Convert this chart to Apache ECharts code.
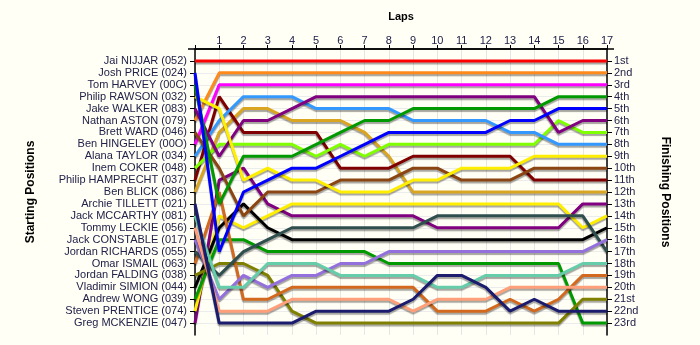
<!DOCTYPE html>
<html><head><meta charset="utf-8">
<script src="https://cdn.jsdelivr.net/npm/echarts@6/dist/echarts.min.js"></script>
<style>html,body{margin:0;padding:0;background:#fffff5;} #c{width:700px;height:345px;}</style>
</head><body><div id="c"></div>
<script>
// Drivers in starting order
const drivers = [
  'Jai NIJJAR (052)', 'Josh PRICE (024)', 'Tom HARVEY (00C)', 'Philip RAWSON (032)',
  'Jake WALKER (083)', 'Nathan ASTON (079)', 'Brett WARD (046)', 'Ben HINGELEY (00O)',
  'Alana TAYLOR (034)', 'Inem COKER (048)', 'Philip HAMPRECHT (037)', 'Ben BLICK (086)',
  'Archie TILLETT (021)', 'Jack MCCARTHY (081)', 'Tommy LECKIE (056)', 'Jack CONSTABLE (017)',
  'Jordan RICHARDS (055)', 'Omar ISMAIL (063)', 'Jordan FALDING (038)', 'Vladimir SIMION (044)',
  'Andrew WONG (039)', 'Steven PRENTICE (074)', 'Greg MCKENZIE (047)'
];
const finishLabels = ['1st','2nd','3rd','4th','5th','6th','7th','8th','9th','10th','11th','12th',
  '13th','14th','15th','16th','17th','18th','19th','20th','21st','22nd','23rd'];
const lapLabels = ['1','2','3','4','5','6','7','8','9','10','11','12','13','14','15','16','17'];
const colors = ['#ff0000','#0000ff','#009a00','#ffee00','#800080','#ff8a1c','#8b4513','#ff00ff',
  '#3399ff','#80ff00','#800000','#daa520','#1c1c6e','#66cdaa','#ffa07a','#9370db',
  '#2f4f4f','#d2691e','#808000','#000000','#009a00','#ffee00','#800080'];
// Position of each driver at laps 0..17
const positions = [
  [1,1,1,1,1,1,1,1,1,1,1,1,1,1,1,1,1,1],
  [2,17,12,11,10,10,9,8,7,7,7,7,7,6,6,5,5,5],
  [3,13,9,9,9,8,7,6,6,5,5,5,5,5,5,4,4,4],
  [4,5,11,10,11,11,12,12,12,11,11,10,10,10,9,9,9,9],
  [5,9,6,6,5,4,4,4,4,4,4,4,4,4,4,7,6,6],
  [6,2,2,2,2,2,2,2,2,2,2,2,2,2,2,2,2,2],
  [7,10,14,12,12,12,11,11,11,10,10,11,11,11,10,10,10,10],
  [8,3,3,3,3,3,3,3,3,3,3,3,3,3,3,3,3,3],
  [9,6,4,4,4,5,5,5,5,6,6,6,6,7,7,8,8,8],
  [10,8,8,8,8,9,8,9,8,8,8,8,8,8,8,6,7,7],
  [11,4,7,7,7,7,10,10,10,9,9,9,9,9,11,11,11,11],
  [12,7,5,5,6,6,6,7,9,12,12,12,12,12,12,12,12,12],
  [13,23,23,23,23,22,22,22,22,21,19,19,20,22,21,22,22,22],
  [14,20,20,18,18,18,19,19,19,19,20,20,19,19,19,19,18,18],
  [15,22,22,22,21,21,21,21,21,22,21,21,21,20,20,20,20,20],
  [16,21,19,20,19,19,18,18,17,17,17,17,17,17,17,17,17,16],
  [17,19,17,16,15,15,15,15,15,15,14,14,14,14,14,14,14,17],
  [18,12,21,21,20,20,20,20,20,20,22,22,22,21,22,21,19,19],
  [19,18,18,19,22,23,23,23,23,23,23,23,23,23,23,23,21,21],
  [20,15,13,15,16,16,16,16,16,16,16,16,16,16,16,16,16,15],
  [21,16,16,17,17,17,17,17,18,18,18,18,18,18,18,18,23,23],
  [22,14,15,14,13,13,13,13,13,13,13,13,13,13,13,13,15,14],
  [23,11,10,13,14,14,14,14,14,14,15,15,15,15,15,15,13,13]
];

const posTicks = drivers.map((d, i) => i + 1);
const txt = '#22224a';
const chart = echarts.init(document.getElementById('c'), null, {renderer: 'canvas'});
const series = positions.map((p, i) => ({
  type: 'line', name: drivers[i], symbol: 'none', z: 10 + (positions.length - i),
  data: p.map((v, lap) => [lap, v]),
  lineStyle: {color: colors[i], width: 3, shadowColor: 'rgba(0,0,0,0.35)', shadowBlur: 1, shadowOffsetY: 2},
  itemStyle: {color: colors[i]}
}));
const yCommon = {
  type: 'value', min: 0, max: 24, interval: 1, inverse: true,
  axisLine: {show: true, lineStyle: {color: '#000', width: 1.5}},
  axisTick: {show: true, length: 5, customValues: posTicks, lineStyle: {color: '#000'}},
  nameLocation: 'middle',
  nameTextStyle: {fontFamily: 'Liberation Sans', fontWeight: 'bold', fontSize: 12, color: '#000'}
};
chart.setOption({
  animation: false,
  backgroundColor: '#fffff5',
  grid: {left: 195, right: 93, top: 49, bottom: 10, containLabel: false},
  graphic: [{type: 'line', shape: {x1: 188, y1: 49, x2: 614, y2: 49}, style: {stroke: '#000', lineWidth: 1.5}, z: 50}],
  xAxis: {
    type: 'value', position: 'top', min: 0, max: 17, interval: 1,
    name: 'Laps', nameLocation: 'middle', nameGap: 27,
    nameTextStyle: {fontFamily: 'Liberation Sans', fontWeight: 'bold', fontSize: 11, color: '#000'},
    axisLine: {show: true, lineStyle: {color: '#000', width: 1.5}},
    axisTick: {show: true, length: 4, lineStyle: {color: '#000'}},
    axisLabel: {formatter: v => v === 0 ? '' : lapLabels[v - 1], fontFamily: 'Liberation Sans', fontSize: 11, color: txt, margin: 3},
    splitLine: {show: true, lineStyle: {color: '#e6e6e6', width: 1}}
  },
  yAxis: [
    Object.assign({}, yCommon, {
      position: 'left', name: 'Starting Positions', nameRotate: 90, nameGap: 158,
      axisLabel: {customValues: posTicks, formatter: v => drivers[v - 1], fontFamily: 'Liberation Sans', fontSize: 11, color: txt, margin: 8},
      splitLine: {show: true, lineStyle: {color: '#ececec', width: 1}}
    }),
    Object.assign({}, yCommon, {
      position: 'right', name: 'Finishing Positions', nameRotate: -90, nameGap: 52,
      axisLabel: {customValues: posTicks, formatter: v => finishLabels[v - 1], fontFamily: 'Liberation Sans', fontSize: 11, color: txt, margin: 7},
      splitLine: {show: false}
    })
  ],
  series: series
});
</script>
</body></html>
